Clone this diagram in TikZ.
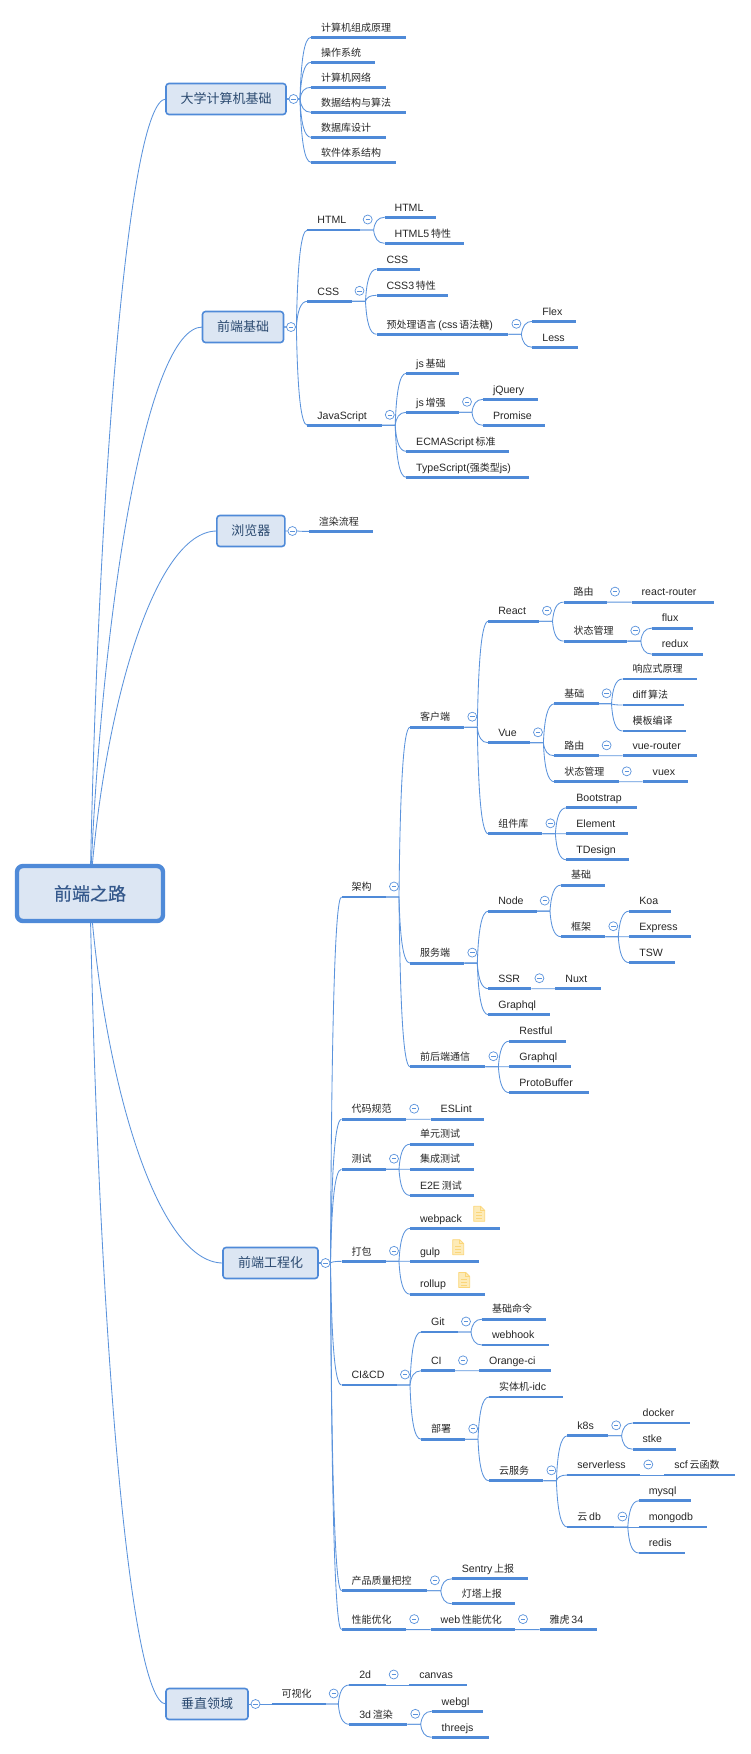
\documentclass[tikz,border=0pt]{standalone}
\usepackage{fontspec}
\setmainfont[Scale=1.06]{Liberation Sans}
\newfontfamily\cjk{Noto Sans CJK SC}
\newfontfamily\cjkroot[FakeBold=0.6]{Noto Sans CJK SC}
\newcommand{\cn}[1]{{\cjk #1}}
\usetikzlibrary{calc,backgrounds}

\definecolor{linkblue}{HTML}{5B93DC}
\definecolor{barblue}{HTML}{4F8AD8}
\definecolor{boxfill}{HTML}{DCE6F3}
\definecolor{boxtext}{HTML}{2B4A70}
\definecolor{roottext}{HTML}{35598C}
\definecolor{notefill}{HTML}{FDEBB8}
\definecolor{noteline}{HTML}{FBD67A}

\tikzset{
  conn/.style={linkblue, line width=0.85pt},
  stem/.style={barblue, line width=2.8pt},
  topic/.style={anchor=south west, outer sep=0pt, inner xsep=0pt, inner ysep=3.8pt,
    text width=#1pt, align=left, text height=8pt, text depth=2.5pt,
    font=\fontsize{10}{12}\selectfont, text=black!85,
    execute at begin node={\hspace*{10pt}},
    append after command={(\tikzlastnode.south west) edge[stem] (\tikzlastnode.south east)}},
  mainbox/.style={draw=barblue, fill=boxfill, rounded corners=3pt, line width=1.6pt, outer sep=0pt,
    minimum width=#1pt, minimum height=31pt, text=boxtext, font=\cjk\fontsize{13}{15}\selectfont},
  fold/.style={circle, draw=linkblue, fill=white, line width=0.7pt, minimum size=9pt, inner sep=0pt,
    path picture={\draw[linkblue, line width=0.6pt] ($(path picture bounding box.center)+(-2.2pt,0)$) -- +(4.4pt,0);}},
  filenote/.pic={
    \draw[noteline, fill=notefill, line width=0.8pt, line join=round]
      (-5.5,-7.5) -- (1.5,-7.5) -- (5.5,-3.5) -- (5.5,7.5) -- (-5.5,7.5) -- cycle;
    \draw[noteline, line width=0.8pt] (1.5,-7.5) -- (1.5,-3.5) -- (5.5,-3.5);
    \draw[noteline, line width=1pt] (-3,-1) -- (3,-1) (-3,2) -- (3,2) (-3,5) -- (3,5);
  }
}

% stub to the branch line, then bend into the child
\newcommand{\branch}[2]{\draw[conn] let \p1=(#1), \p2=(#2) in
  (\p1) -- (\x2-11pt,\y1) .. controls (\x2-10pt,\y1*0.4+\y2*0.6) and (\x2-7pt,\y2) .. (\p2);}
\newcommand{\rootlink}[1]{\draw[conn] let \p1=(root.center), \p2=(#1.west) in
  (\p1) .. controls (\x1*0.9+\x2*0.1,\y1*0.5+\y2*0.5) and (\x1*0.5+\x2*0.5,\y2) .. (\p2);}

\begin{document}
\begin{tikzpicture}[x=1pt, y=-1pt]
  \useasboundingbox (0,0) rectangle (751,1754);

  \node[mainbox=146, minimum height=55pt, line width=4.4pt, rounded corners=6pt, text=roottext,
    font=\cjkroot\fontsize{18}{20}\selectfont] (root) at (90,893.5) {前端之路};

  \node[mainbox=120] (cs) at (226,99) {大学计算机基础};
  \node[mainbox=81] (web) at (243,327) {前端基础};
  \node[mainbox=68] (browser) at (250.9,531) {浏览器};
  \node[mainbox=95] (eng) at (270.5,1263) {前端工程化};
  \node[mainbox=82] (field) at (207,1704) {垂直领域};

  % cs
  \node[topic=95] (cs1) at (311,37.3) {\cn{计算机组成原理}};
  \node[topic=64] (cs2) at (311,62.3) {\cn{操作系统}};
  \node[topic=75] (cs3) at (311,87.3) {\cn{计算机网络}};
  \node[topic=95] (cs4) at (311,112.3) {\cn{数据结构与算法}};
  \node[topic=75] (cs5) at (311,137.3) {\cn{数据库设计}};
  \node[topic=85] (cs6) at (311,162.3) {\cn{软件体系结构}};

  % web
  \node[topic=52.3] (html) at (307.4,230) {HTML};
  \node[topic=51.4] (htmla) at (384.6,217.3) {HTML};
  \node[topic=79.7] (htmlb) at (384.6,243.3) {HTML5\,\cn{特性}};
  \node[topic=44.1] (css) at (307.4,301.3) {CSS};
  \node[topic=43.5] (cssa) at (376.5,269.3) {CSS};
  \node[topic=71.5] (cssb) at (376.5,295.3) {CSS3\,\cn{特性}};
  \node[topic=131.9] (cssc) at (376.5,334.3) {\cn{预处理语言}\,(css\,\cn{语法糖})};
  \node[topic=43.1] (flex) at (532.4,321.3) {Flex};
  \node[topic=45.1] (less) at (532.4,347.3) {Less};
  \node[topic=74.4] (js) at (307.4,425.3) {JavaScript};
  \node[topic=52.8] (jsa) at (406.2,373.3) {js\,\cn{基础}};
  \node[topic=52.8] (jsb) at (406.2,412.3) {js\,\cn{增强}};
  \node[topic=103.2] (jsc) at (406.2,451.3) {ECMAScript\,\cn{标准}};
  \node[topic=122.8] (jsd) at (406.2,477.3) {TypeScript(\cn{强类型}js)};
  \node[topic=55] (jquery) at (483,399.3) {jQuery};
  \node[topic=62.3] (promise) at (483,425.3) {Promise};

  % browser
  \node[topic=64.1] (render) at (308.9,531.4) {\cn{渲染流程}};

  % eng: arch
  \node[topic=44.5] (arch) at (341.5,897) {\cn{架构}};
  \node[topic=54.3] (client) at (410,727.2) {\cn{客户端}};
  \node[topic=54.3] (server) at (410,963.1) {\cn{服务端}};
  \node[topic=75.4] (comm) at (410,1066.7) {\cn{前后端通信}};
  \node[topic=50.7] (react) at (488.3,621.2) {React};
  \node[topic=41.7] (vue) at (488.3,742.8) {Vue};
  \node[topic=54.1] (ui) at (488.3,833.8) {\cn{组件库}};
  \node[topic=43.5] (rroute) at (563.5,602.1) {\cn{路由}};
  \node[topic=63.8] (rstate) at (563.5,641.1) {\cn{状态管理}};
  \node[topic=82] (rrouter) at (631.7,602.1) {react-router};
  \node[topic=40.8] (flux) at (651.8,628.1) {flux};
  \node[topic=50.8] (redux) at (651.8,654.1) {redux};
  \node[topic=44.2] (vbase) at (554.4,703.8) {\cn{基础}};
  \node[topic=44.2] (vroute) at (554.4,755.8) {\cn{路由}};
  \node[topic=64.3] (vstate) at (554.4,781.8) {\cn{状态管理}};
  \node[topic=74.9] (reactive) at (622.5,679) {\cn{响应式原理}};
  \node[topic=61] (diff) at (622.5,705) {diff\,\cn{算法}};
  \node[topic=63.8] (tmpl) at (622.5,731) {\cn{模板编译}};
  \node[topic=74.9] (vrouter) at (622.5,755.8) {vue-router};
  \node[topic=45.6] (vuex) at (642.7,781.8) {vuex};
  \node[topic=71] (bootstrap) at (566.4,807.8) {Bootstrap};
  \node[topic=61.9] (element) at (566.4,833.8) {Element};
  \node[topic=62.9] (tdesign) at (566.4,859.8) {TDesign};
  \node[topic=48.4] (nodejs) at (488.3,911.1) {Node};
  \node[topic=43.1] (ssr) at (488.3,988.7) {SSR};
  \node[topic=61.7] (gqla) at (488.3,1014.7) {Graphql};
  \node[topic=44.3] (nbase) at (561,885.1) {\cn{基础}};
  \node[topic=44.3] (frame) at (561,936.7) {\cn{框架}};
  \node[topic=41.2] (koa) at (629.3,911.1) {Koa};
  \node[topic=61.3] (express) at (629.3,936.7) {Express};
  \node[topic=46] (tsw) at (629.3,962.7) {TSW};
  \node[topic=46] (nuxt) at (555.4,988.7) {Nuxt};
  \node[topic=57] (restful) at (509.4,1041.1) {Restful};
  \node[topic=61.8] (gqlb) at (509.4,1066.7) {Graphql};
  \node[topic=79.1] (proto) at (509.4,1092.7) {ProtoBuffer};

  % eng: lint, test, pack
  \node[topic=64.7] (lint) at (341.5,1119.2) {\cn{代码规范}};
  \node[topic=53.7] (eslint) at (430.7,1119.2) {ESLint};
  \node[topic=44.5] (test) at (341.5,1169.2) {\cn{测试}};
  \node[topic=64.3] (testa) at (410,1144.2) {\cn{单元测试}};
  \node[topic=64.3] (testb) at (410,1169.2) {\cn{集成测试}};
  \node[topic=64.3] (testc) at (410,1195.4) {E2E\,\cn{测试}};
  \node[topic=44.5] (pack) at (341.5,1261.3) {\cn{打包}};
  \node[topic=90.2] (webpack) at (410,1228.3) {webpack};
  \node[topic=69] (gulp) at (410,1261.3) {gulp};
  \node[topic=75] (rollup) at (410,1294.2) {rollup};
  \pic at (479.2,1213.8) {filenote};
  \pic at (458.2,1247.2) {filenote};
  \pic at (464.2,1280) {filenote};

  % eng: ci
  \node[topic=55.5] (cicd) at (341.5,1385) {CI\&CD};
  \node[topic=37] (git) at (421,1332) {Git};
  \node[topic=34] (ci) at (421,1370.8) {CI};
  \node[topic=44.2] (deploy) at (421,1439.2) {\cn{部署}};
  \node[topic=64.3] (gitcmd) at (482,1319.2) {\cn{基础命令}};
  \node[topic=67.2] (webhook) at (482,1345) {webhook};
  \node[topic=72] (orange) at (479,1370.8) {Orange-ci};
  \node[topic=74] (idc) at (489,1397) {\cn{实体机}-idc};
  \node[topic=54.4] (cloud) at (489,1480.8) {\cn{云服务}};
  \node[topic=40.8] (k8s) at (567.4,1435.8) {k8s};
  \node[topic=72.9] (serverless) at (567.4,1475) {serverless};
  \node[topic=47] (clouddb) at (567.4,1527) {\cn{云}\,db};
  \node[topic=57.1] (docker) at (632.6,1423) {docker};
  \node[topic=43.7] (stke) at (632.6,1449.2) {stke};
  \node[topic=70.5] (scf) at (664.3,1475) {scf\,\cn{云函数}};
  \node[topic=51.8] (mysql) at (638.8,1500.8) {mysql};
  \node[topic=68.6] (mongodb) at (638.8,1527) {mongodb};
  \node[topic=46.6] (redis) at (638.8,1553) {redis};

  % eng: quality, perf
  \node[topic=85.4] (quality) at (341.5,1590.8) {\cn{产品质量把控}};
  \node[topic=76.2] (sentry) at (451.8,1578.8) {Sentry\,\cn{上报}};
  \node[topic=63.2] (lamp) at (451.8,1603.8) {\cn{灯塔上报}};
  \node[topic=64.7] (perf) at (341.5,1629.6) {\cn{性能优化}};
  \node[topic=84.3] (webperf) at (430.7,1629.6) {web\,\cn{性能优化}};
  \node[topic=57.4] (yahoo) at (539.6,1629.6) {\cn{雅虎}\,34};

  % field
  \node[topic=54] (vis) at (271.7,1704) {\cn{可视化}};
  \node[topic=36.4] (twod) at (349.3,1685) {2d};
  \node[topic=57.4] (canvas) at (409.3,1685) {canvas};
  \node[topic=58] (threed) at (349.3,1724.3) {3d\,\cn{渲染}};
  \node[topic=51.6] (webgl) at (431.7,1711.3) {webgl};
  \node[topic=57] (threejs) at (431.7,1737.3) {threejs};

  \begin{scope}[on background layer]
    \foreach \kid in {cs,web,browser,eng,field}
      {\rootlink{\kid}}

    \foreach \kid in {cs1,cs2,cs3,cs4,cs5,cs6}
      {\branch{cs.east}{\kid.south west}}
    \foreach \kid in {html,css,js}
      {\branch{web.east}{\kid.south west}}
    \branch{browser.east}{render.south west}
    \foreach \kid in {arch,lint,test,pack,cicd,quality,perf}
      {\branch{eng.east}{\kid.south west}}
    \branch{field.east}{vis.south west}

    \foreach \pa/\kid in {html/htmla,html/htmlb,css/cssa,css/cssb,css/cssc,cssc/flex,cssc/less,
        js/jsa,js/jsb,js/jsc,js/jsd,jsb/jquery,jsb/promise,
        arch/client,arch/server,arch/comm,client/react,client/vue,client/ui,
        react/rroute,react/rstate,rroute/rrouter,rstate/flux,rstate/redux,
        vue/vbase,vue/vroute,vue/vstate,vbase/reactive,vbase/diff,vbase/tmpl,vroute/vrouter,vstate/vuex,
        ui/bootstrap,ui/element,ui/tdesign,server/nodejs,server/ssr,server/gqla,
        nodejs/nbase,nodejs/frame,frame/koa,frame/express,frame/tsw,ssr/nuxt,
        comm/restful,comm/gqlb,comm/proto,lint/eslint,test/testa,test/testb,test/testc,
        pack/webpack,pack/gulp,pack/rollup,cicd/git,cicd/ci,cicd/deploy,git/gitcmd,git/webhook,ci/orange,
        deploy/idc,deploy/cloud,cloud/k8s,cloud/serverless,cloud/clouddb,k8s/docker,k8s/stke,
        serverless/scf,clouddb/mysql,clouddb/mongodb,clouddb/redis,
        quality/sentry,quality/lamp,perf/webperf,webperf/yahoo,
        vis/twod,vis/threed,twod/canvas,threed/webgl,threed/threejs}
      {\branch{\pa.south east}{\kid.south west}}
  \end{scope}

  % fold marks
  \foreach \pa in {cs,web,browser,eng,field}
    {\node[fold] (\pa-fold) at ([xshift=7.5pt]\pa.east) {};}
  \foreach \pa in {html,css,cssc,js,jsb,arch,client,react,rroute,rstate,vue,vbase,vroute,vstate,ui,
      server,nodejs,frame,ssr,comm,lint,test,pack,cicd,git,ci,deploy,cloud,k8s,serverless,clouddb,
      quality,perf,webperf,vis,twod,threed}
    {\node[fold] (\pa-fold) at ([xshift=8pt,yshift=10.5pt]\pa.south east) {};}
\end{tikzpicture}
\end{document}
